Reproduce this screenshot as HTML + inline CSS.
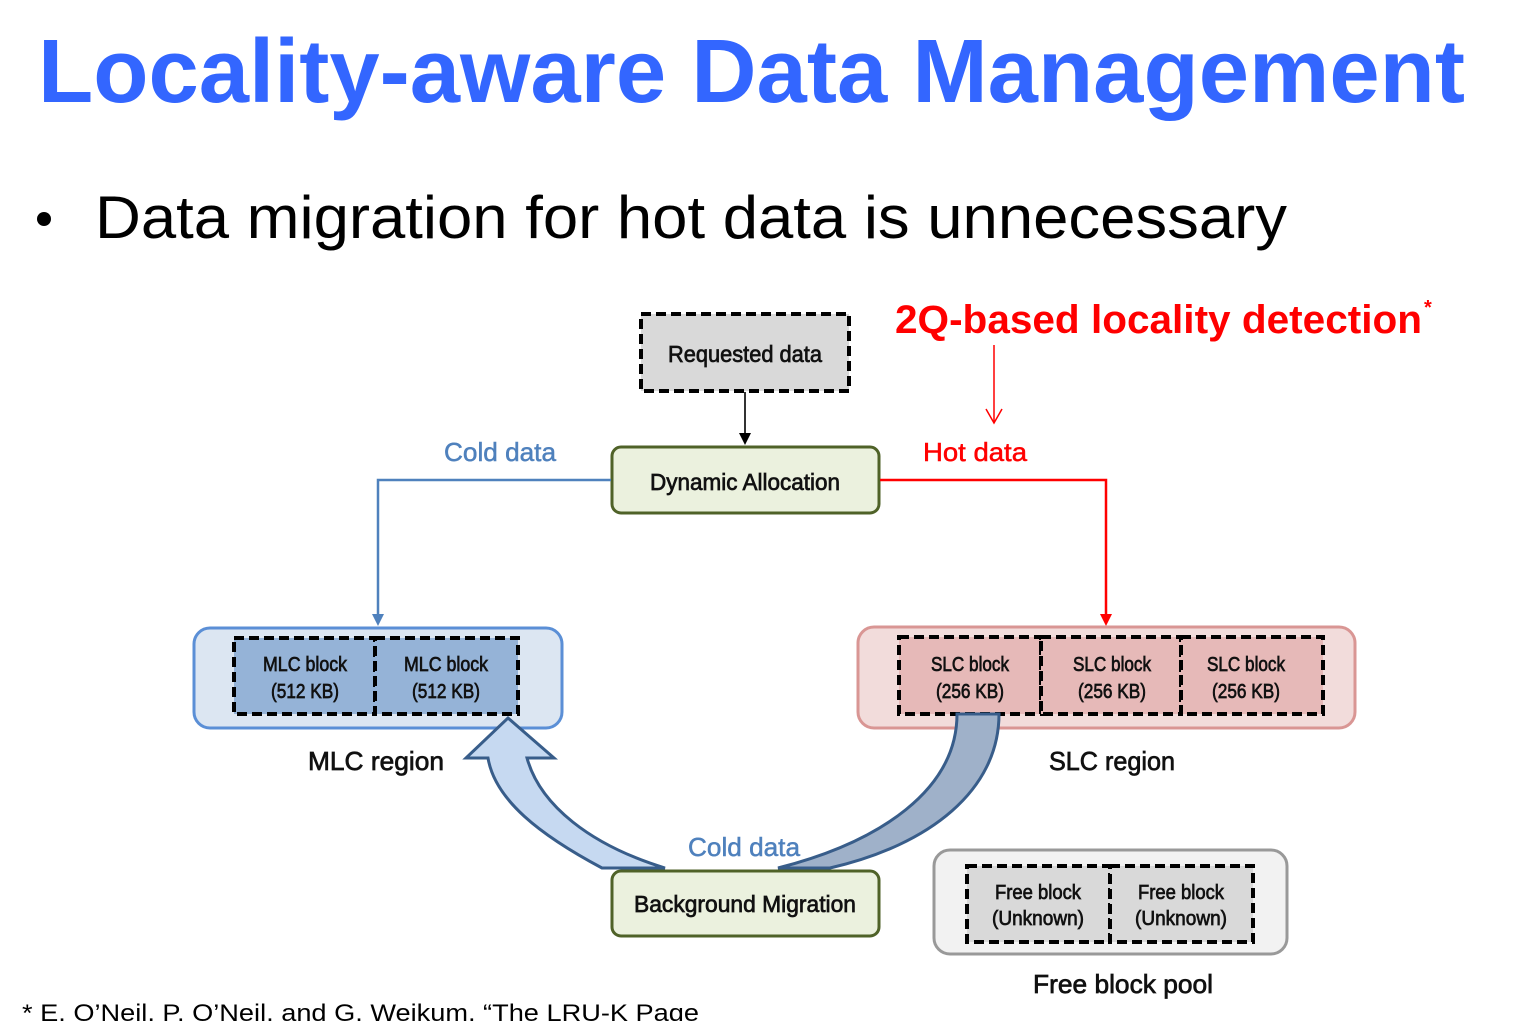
<!DOCTYPE html>
<html><head><meta charset="utf-8"><style>
html,body{margin:0;padding:0;background:#fff;}
svg{display:block;}
.d{stroke:#111;stroke-width:0.7;}
</style></head><body>
<svg width="1517" height="1021" viewBox="0 0 1517 1021" xmlns="http://www.w3.org/2000/svg" font-family="Liberation Sans, sans-serif">
<text x="38" y="102" font-size="90" font-weight="bold" fill="#3366ff" textLength="1427" lengthAdjust="spacingAndGlyphs">Locality-aware Data Management</text>
<circle cx="44" cy="219" r="7" fill="#000"/>
<text x="95" y="238" font-size="60" fill="#000" textLength="1192" lengthAdjust="spacingAndGlyphs">Data migration for hot data is unnecessary</text>
<text x="895" y="333" font-size="40" font-weight="bold" fill="#ff0000" textLength="527" lengthAdjust="spacingAndGlyphs">2Q-based locality detection</text>
<text x="1424" y="314" font-size="20" font-weight="bold" fill="#ff0000">*</text>
<line x1="994" y1="345" x2="994" y2="423" stroke="#ff0000" stroke-width="1.5"/>
<polyline points="986,409 994,423 1002,409" fill="none" stroke="#ff0000" stroke-width="1.5"/>

<rect x="641" y="314" width="208" height="77" fill="#d9d9d9" stroke="#000" stroke-width="4" stroke-dasharray="10,5"/>
<text class="d" x="745" y="362" font-size="23" text-anchor="middle" fill="#111" textLength="154" lengthAdjust="spacingAndGlyphs">Requested data</text>
<line x1="745" y1="392" x2="745" y2="436" stroke="#333" stroke-width="2"/>
<polygon points="739,433 751,433 745,445" fill="#000"/>

<rect x="612" y="447" width="267" height="66" rx="9" fill="#ebf1de" stroke="#4f6228" stroke-width="3"/>
<text class="d" x="745" y="490" font-size="23" text-anchor="middle" fill="#111" textLength="190" lengthAdjust="spacingAndGlyphs">Dynamic Allocation</text>

<text x="444" y="461" font-size="26" fill="#4f81bd" stroke="#4f81bd" stroke-width="0.5" textLength="112" lengthAdjust="spacingAndGlyphs">Cold data</text>
<polyline points="611,480 378,480 378,618" fill="none" stroke="#4f81bd" stroke-width="2.5"/>
<polygon points="372,614 384,614 378,626" fill="#4f81bd"/>
<text x="923" y="461" font-size="26" fill="#ff0000" stroke="#ff0000" stroke-width="0.5" textLength="104" lengthAdjust="spacingAndGlyphs">Hot data</text>
<polyline points="880,480 1106,480 1106,618" fill="none" stroke="#ff0000" stroke-width="2.5"/>
<polygon points="1100,614 1112,614 1106,626" fill="#ff0000"/>

<rect x="194" y="628" width="368" height="100" rx="16" fill="#dce6f2" stroke="#5b8fd6" stroke-width="3"/>
<rect x="234" y="638" width="141" height="76" fill="#95b3d7" stroke="#000" stroke-width="4" stroke-dasharray="10,5"/>
<rect x="375" y="638" width="143" height="76" fill="#95b3d7" stroke="#000" stroke-width="4" stroke-dasharray="10,5"/>
<g font-size="20" text-anchor="middle" fill="#111" class="d">
<text x="305" y="671" textLength="84" lengthAdjust="spacingAndGlyphs">MLC block</text>
<text x="305" y="698" textLength="68" lengthAdjust="spacingAndGlyphs">(512 KB)</text>
<text x="446" y="671" textLength="84" lengthAdjust="spacingAndGlyphs">MLC block</text>
<text x="446" y="698" textLength="68" lengthAdjust="spacingAndGlyphs">(512 KB)</text>
</g>
<text class="d" x="376" y="770" font-size="26" text-anchor="middle" fill="#111" textLength="136" lengthAdjust="spacingAndGlyphs">MLC region</text>

<rect x="858" y="627" width="497" height="101" rx="16" fill="#f2dcdb" stroke="#d99694" stroke-width="3"/>
<rect x="899" y="637" width="142" height="77" fill="#e6b9b8" stroke="#000" stroke-width="4" stroke-dasharray="10,5"/>
<rect x="1041" y="637" width="140" height="77" fill="#e6b9b8" stroke="#000" stroke-width="4" stroke-dasharray="10,5"/>
<rect x="1181" y="637" width="142" height="77" fill="#e6b9b8" stroke="#000" stroke-width="4" stroke-dasharray="10,5"/>
<g font-size="20" text-anchor="middle" fill="#111" class="d">
<text x="970" y="671" textLength="78" lengthAdjust="spacingAndGlyphs">SLC block</text>
<text x="970" y="698" textLength="68" lengthAdjust="spacingAndGlyphs">(256 KB)</text>
<text x="1112" y="671" textLength="78" lengthAdjust="spacingAndGlyphs">SLC block</text>
<text x="1112" y="698" textLength="68" lengthAdjust="spacingAndGlyphs">(256 KB)</text>
<text x="1246" y="671" textLength="78" lengthAdjust="spacingAndGlyphs">SLC block</text>
<text x="1246" y="698" textLength="68" lengthAdjust="spacingAndGlyphs">(256 KB)</text>
</g>
<text class="d" x="1112" y="770" font-size="26" text-anchor="middle" fill="#111" textLength="126" lengthAdjust="spacingAndGlyphs">SLC region</text>

<rect x="934" y="850" width="353" height="104" rx="16" fill="#f2f2f2" stroke="#999" stroke-width="3"/>
<rect x="967" y="866" width="143" height="76" fill="#d9d9d9" stroke="#000" stroke-width="4" stroke-dasharray="10,5"/>
<rect x="1110" y="866" width="143" height="76" fill="#d9d9d9" stroke="#000" stroke-width="4" stroke-dasharray="10,5"/>
<g font-size="20" text-anchor="middle" fill="#111" class="d">
<text x="1038" y="899" textLength="86" lengthAdjust="spacingAndGlyphs">Free block</text>
<text x="1038" y="925" textLength="92" lengthAdjust="spacingAndGlyphs">(Unknown)</text>
<text x="1181" y="899" textLength="86" lengthAdjust="spacingAndGlyphs">Free block</text>
<text x="1181" y="925" textLength="92" lengthAdjust="spacingAndGlyphs">(Unknown)</text>
</g>
<text class="d" x="1123" y="993" font-size="26" text-anchor="middle" fill="#111" textLength="180" lengthAdjust="spacingAndGlyphs">Free block pool</text>

<path d="M957,714 L999,714 C999,790 930,845 830,868 L778,868 C880,842 957,790 957,714 Z" fill="#9fb1c9" stroke="#385d8a" stroke-width="3"/>
<path d="M665,868 L602,868 C540,835 495,800 488,758 L466,758 L508,718 L554,758 L527,758 C540,805 590,845 665,868 Z" fill="#c6d9f1" stroke="#385d8a" stroke-width="3"/>

<text x="688" y="856" font-size="26" fill="#4f81bd" stroke="#4f81bd" stroke-width="0.5" textLength="112" lengthAdjust="spacingAndGlyphs">Cold data</text>

<rect x="612" y="871" width="267" height="65" rx="9" fill="#ebf1de" stroke="#4f6228" stroke-width="3"/>
<text class="d" x="745" y="912" font-size="23" text-anchor="middle" fill="#111" textLength="222" lengthAdjust="spacingAndGlyphs">Background Migration</text>

<text x="22" y="1021" font-size="24" fill="#000" textLength="677" lengthAdjust="spacingAndGlyphs">* E. O’Neil, P. O’Neil, and G. Weikum, “The LRU-K Page</text>
</svg>
</body></html>
